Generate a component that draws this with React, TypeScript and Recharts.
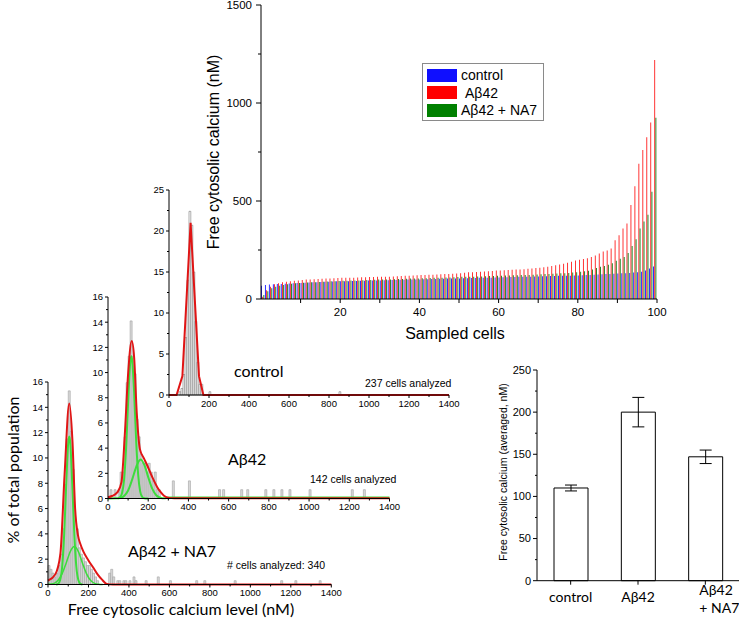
import React from 'react';
import { BarChart, Bar, ComposedChart, Line, XAxis, YAxis, ErrorBar } from 'recharts';

const ARIAL = '"Liberation Sans", Arial, sans-serif';
const CAL = 'Lato, "Open Sans", sans-serif';

// ---- main panel: free cytosolic calcium (nM) of 100 sampled cells, sorted ----
const controlCa = [
  68, 72, 74, 75, 76, 77, 78, 79, 80, 81,
  82, 83, 84, 85, 86, 87, 88, 88, 89, 90,
  90, 91, 91, 92, 92, 93, 93, 94, 94, 95,
  95, 96, 96, 97, 97, 98, 98, 99, 99, 100,
  100, 101, 101, 102, 102, 103, 103, 104, 104, 105,
  105, 106, 106, 107, 107, 108, 108, 109, 109, 110,
  110, 111, 111, 112, 112, 113, 113, 114, 114, 115,
  115, 116, 116, 117, 117, 118, 118, 119, 119, 120,
  120, 121, 122, 123, 124, 125, 126, 127, 128, 129,
  130, 131, 132, 133, 135, 137, 139, 145, 155, 166,
];
const ab42Ca = [
  12, 45, 62, 75, 80, 85, 88, 90, 93, 95,
  97, 99, 100, 101, 102, 103, 104, 105, 106, 107,
  108, 108, 109, 109, 110, 111, 111, 112, 112, 113,
  113, 114, 114, 115, 116, 117, 118, 119, 120, 121,
  122, 123, 124, 124, 125, 126, 127, 128, 129, 130,
  132, 134, 136, 137, 138, 139, 140, 142, 143, 145,
  146, 147, 148, 149, 150, 151, 152, 154, 156, 158,
  160, 162, 165, 168, 172, 176, 180, 185, 190, 196,
  200, 204, 208, 214, 222, 232, 242, 248, 258, 300,
  325, 360, 385, 480, 575, 690, 760, 825, 900, 1220,
];
const na7Ca = [
  20, 40, 55, 62, 68, 72, 75, 78, 80, 82,
  83, 84, 85, 86, 87, 88, 89, 90, 91, 92,
  93, 93, 94, 95, 95, 96, 97, 97, 98, 99,
  99, 100, 100, 101, 102, 102, 103, 104, 104, 105,
  106, 106, 107, 108, 108, 109, 110, 110, 111, 112,
  113, 113, 114, 114, 115, 115, 116, 117, 117, 118,
  119, 120, 120, 121, 121, 122, 122, 123, 124, 125,
  126, 127, 128, 129, 130, 131, 132, 133, 135, 137,
  139, 141, 144, 150, 158, 165, 169, 175, 183, 195,
  205, 214, 235, 270, 305, 360, 395, 430, 547, 925,
];

// ---- histograms: bin centres (nM) and % of total population ----
const ctrlBinX = [55, 65, 75, 85, 95, 105, 115, 125, 135, 145, 155, 165, 205, 855];
const ctrlBinPct = [0.4, 0.8, 2.5, 7, 14, 22.4, 20.7, 15, 9, 4, 1.3, 1.3, 0.4, 0.4];
const ctrlFitX = [0, 38, 67, 108, 150, 172, 1400];
const ctrlFitY = [0, 0, 2.3, 21, 2.3, 0, 0];

const abBinX = [15, 35, 55, 65, 75, 85, 95, 105, 115, 125, 135, 145, 155, 165, 175, 185, 195, 205, 215, 225, 235, 245, 255,
  325, 405, 555, 575, 665, 695, 785, 825, 865, 905, 1005, 1215, 1275];
const abBinPct = [0.7, 0.7, 0.7, 2.1, 2.1, 4.9, 9.2, 11.3, 14.1, 11.3, 9.9, 6.3, 4.9, 3.5, 2.8, 2.8, 2.1, 2.8, 2.1, 1.4, 2.1, 0.7, 0.7,
  1.4, 1.4, 0.7, 0.7, 0.7, 0.7, 0.7, 0.7, 0.7, 0.7, 0.7, 0.7, 0.7];
const abRedX = [0, 20, 47, 67, 83, 100, 118, 130, 143, 159, 178, 196, 212, 229, 245, 262, 280, 303, 330, 1400];
const abRedY = [0.1, 0.2, 0.5, 1.3, 4.9, 9.9, 12.5, 11.2, 6.8, 3.9, 3.2, 2.6, 2.0, 1.4, 0.9, 0.5, 0.2, 0.05, 0.02, 0.02];
const abNarrowX = [50, 60, 70, 80, 90, 100, 110, 116, 120, 130, 140, 150, 160, 170, 180, 200];
const abNarrowY = [0.02, 0.09, 0.43, 1.5, 4.0, 7.6, 10.7, 11.3, 11.0, 8.4, 4.6, 1.9, 0.57, 0.13, 0.02, 0];
const abWideX = [0, 40, 60, 80, 100, 120, 140, 162, 180, 200, 220, 240, 260, 280, 300, 1400];
const abWideY = [0, 0.01, 0.04, 0.2, 0.64, 1.5, 2.5, 3.1, 2.7, 1.7, 0.78, 0.26, 0.06, 0.01, 0.08, 0.08];

const naBinX = [5, 15, 25, 35, 45, 55, 65, 75, 85, 95, 105, 115, 125, 135, 145, 155, 165, 175, 185, 195, 205, 215, 225, 235, 245,
  305, 315, 325, 345, 355, 375, 385, 405, 425, 435, 485, 545, 605, 735, 775, 925, 1155, 1225, 1345];
const naBinPct = [1.5, 1.2, 0.9, 0.6, 0.9, 1.5, 2.4, 4.4, 7.9, 11.5, 15.3, 12.1, 9.1, 5.0, 4.4, 2.9, 2.4, 2.1, 1.8, 1.5, 1.5, 1.2, 0.9, 0.6, 0.3,
  0.9, 1.2, 0.6, 0.3, 0.3, 0.3, 0.3, 0.3, 0.6, 0.3, 0.3, 0.6, 0.3, 0.3, 0.3, 0.3, 0.3, 0.3, 0.3];
const naRedX = [0, 36, 61, 82, 105, 121, 134, 148, 160, 175, 200, 225, 245, 266, 290, 320, 1400];
const naRedY = [0.3, 0.8, 2.4, 8.7, 14.3, 11.3, 6.0, 3.9, 3.2, 2.6, 1.9, 1.3, 0.8, 0.4, 0.05, 0, 0];
const naNarrowX = [40, 50, 60, 70, 80, 90, 100, 105, 110, 120, 130, 140, 150, 160, 170];
const naNarrowY = [0, 0.05, 0.35, 1.4, 4.0, 7.9, 11.2, 11.7, 11.2, 7.9, 4.0, 1.4, 0.35, 0.05, 0];
const naWideX = [0, 30, 50, 70, 90, 110, 130, 150, 170, 190, 210, 230, 250, 270];
const naWideY = [0.02, 0.09, 0.33, 0.86, 1.7, 2.6, 3.0, 2.6, 1.7, 0.86, 0.33, 0.09, 0.02, 0];

// ---- averaged panel ----
const groups = ['control', 'Aβ42', 'Aβ42 + NA7'];
const meanCa = [110, 200, 147];
const semCa = [3.5, 17.5, 8];

// ---- ticks ----
const mainXTicks = [10, 20, 30, 40, 50, 60, 70, 80, 90, 100];
const mainYTicks = [0, 250, 500, 750, 1000, 1250, 1500];
const histXTicks = [0, 100, 200, 300, 400, 500, 600, 700, 800, 900, 1000, 1100, 1200, 1300, 1400];
const ctrlYTicks = [0, 2.5, 5, 7.5, 10, 12.5, 15, 17.5, 20, 22.5, 25];
const pctYTicks = [0, 1, 2, 3, 4, 5, 6, 7, 8, 9, 10, 11, 12, 13, 14, 15, 16];
const avgYTicks = [0, 25, 50, 75, 100, 125, 150, 175, 200, 225, 250];

const mainRows = controlCa.map((c, i) => ({ pos: i + 0.5, control: c, ab42: ab42Ca[i], na7: na7Ca[i] }));
const toPts = (xs: number[], ys: number[]) => xs.map((x, i) => ({ x, y: ys[i] }));
const avgRows = groups.map((g, i) => ({ g, mean: meanCa[i], sem: semCa[i] }));

const yTick = (major: (v: number) => boolean, majLen: number, minLen: number, fs: number, gap: number) => (p: any) => {
  const v = p.payload.value;
  const maj = major(v);
  return (
    <g>
      <line x1={p.x} x2={p.x - (maj ? majLen : minLen)} y1={p.y} y2={p.y} stroke="#000" />
      {maj && (
        <text x={p.x - gap} y={p.y} dy="0.35em" textAnchor="end" fontSize={fs} fontFamily={ARIAL} fill="#000">{v}</text>
      )}
    </g>
  );
};

const xTick = (major: (v: number) => boolean, majLen: number, minLen: number, fs: number, gap: number) => (p: any) => {
  const v = p.payload.value;
  const maj = major(v);
  return (
    <g>
      <line x1={p.x} x2={p.x} y1={p.y} y2={p.y + (maj ? majLen : minLen)} stroke="#000" />
      {maj && (
        <text x={p.x} y={p.y + gap} dy="0.71em" textAnchor="middle" fontSize={fs} fontFamily={ARIAL} fill="#000">{v}</text>
      )}
    </g>
  );
};

const groupTick = (p: any) => {
  const v: string = p.payload.value;
  const lines = v === 'Aβ42 + NA7' ? ['Aβ42', '+ NA7'] : [v];
  const multi = lines.length > 1;
  const tx = multi ? p.x - 6 : p.x;
  return (
    <g>
      <line x1={p.x} x2={p.x} y1={p.y} y2={p.y + 4} stroke="#000" />
      {lines.map((l, i) => (
        <text key={i} x={tx} y={p.y + (multi ? 9 + i * 18 : 16)} dy="0.35em" textAnchor={multi ? 'start' : 'middle'}
          fontSize={14} fontFamily={CAL} fill="#000">{l}</text>
      ))}
    </g>
  );
};

type Curve = { pts: { x: number; y: number }[]; color: string; w: number; kind: 'linear' | 'monotone' };

const Histogram = (props: {
  left: number; top: number; right: number; bottom: number; yMax: number; yTicks: number[];
  yMajor: (v: number) => boolean; bins: { x: number; v: number }[]; barFill: string; barStroke: string; curves: Curve[];
}) => {
  const { left, top, right, bottom } = props;
  const yw = 30, mt = 7, mr = 12, xh = 20;
  const boxL = left - yw, boxT = top - mt;
  const w = right - boxL + mr, h = bottom - boxT + xh;
  return (
    <div style={{ position: 'absolute', left: boxL, top: boxT }}>
      <ComposedChart width={w} height={h} data={props.bins} margin={{ top: mt, right: mr, left: 0, bottom: 0 }}>
        <XAxis xAxisId="f" dataKey="x" type="number" domain={[0, 1400]} ticks={histXTicks} height={xh}
          tickSize={0} tickMargin={0} tickLine={false} axisLine={{ stroke: '#000' }}
          tick={xTick((v) => v % 200 === 0, 3, 2, 9.5, 5)} interval={0} />
        <XAxis xAxisId="b" dataKey="x" type="number" domain={[0, 1400]} height={0} hide />
        <YAxis type="number" domain={[0, props.yMax]} ticks={props.yTicks} width={yw} tickSize={0} tickMargin={0}
          tickLine={false} axisLine={{ stroke: '#000' }} tick={yTick(props.yMajor, 3, 2, 9.5, 5)} interval={0} />
        <Bar xAxisId="b" dataKey="v" barSize={2} fill={props.barFill} stroke={props.barStroke} strokeWidth={0.6} isAnimationActive={false} />
        {props.curves.map((c, i) => (
          <Line key={i} xAxisId="f" data={c.pts} dataKey="y" type={c.kind} stroke={c.color} strokeWidth={c.w}
            dot={false} isAnimationActive={false} />
        ))}
      </ComposedChart>
    </div>
  );
};

const RED = '#e01515';
const GREEN = '#3ddc3d';

export default function App() {
  return (
    <div style={{ position: 'absolute', left: 0, top: 0, width: 739, height: 619, background: '#fff', overflow: 'hidden' }}>
      <Histogram left={47.7} right={331} top={382} bottom={584.5} yMax={16} yTicks={pctYTicks} yMajor={(v) => v % 2 === 0}
        bins={toPts(naBinX, naBinPct).map((d) => ({ x: d.x, v: d.y }))} barFill="#dadada" barStroke="#a0a0a0"
        curves={[
          { pts: toPts(naWideX, naWideY), color: GREEN, w: 1.5, kind: 'monotone' },
          { pts: toPts(naNarrowX, naNarrowY), color: GREEN, w: 2, kind: 'monotone' },
          { pts: toPts(naRedX, naRedY), color: RED, w: 2, kind: 'monotone' },
        ]} />
      <Histogram left={107.5} right={389} top={297} bottom={498.5} yMax={16} yTicks={pctYTicks} yMajor={(v) => v % 2 === 0}
        bins={toPts(abBinX, abBinPct).map((d) => ({ x: d.x, v: d.y }))} barFill="#dadada" barStroke="#a0a0a0"
        curves={[
          { pts: toPts(abWideX, abWideY), color: GREEN, w: 2, kind: 'monotone' },
          { pts: toPts(abNarrowX, abNarrowY), color: GREEN, w: 2, kind: 'monotone' },
          { pts: toPts(abRedX, abRedY), color: RED, w: 2, kind: 'monotone' },
        ]} />
      <Histogram left={169} right={449} top={190} bottom={395} yMax={25} yTicks={ctrlYTicks} yMajor={(v) => v % 5 === 0}
        bins={toPts(ctrlBinX, ctrlBinPct).map((d) => ({ x: d.x, v: d.y }))} barFill="#ffffff" barStroke="#777777"
        curves={[{ pts: toPts(ctrlFitX, ctrlFitY), color: RED, w: 2, kind: 'linear' }]} />

      <div style={{ position: 'absolute', left: 200, top: 0 }}>
        <BarChart width={470} height={345} data={mainRows} margin={{ top: 5, right: 13, bottom: 16, left: 21 }} barGap={0.3}>
          <XAxis dataKey="pos" type="number" domain={[0, 100]} ticks={mainXTicks} interval={0} height={30}
            tickSize={0} tickMargin={0} tickLine={false} axisLine={{ stroke: '#000' }}
            tick={xTick((v) => v % 20 === 0, 4, 4, 11.5, 9)} />
          <YAxis type="number" domain={[0, 1500]} ticks={mainYTicks} interval={0} width={40}
            tickSize={0} tickMargin={0} tickLine={false} axisLine={{ stroke: '#000' }}
            tick={yTick((v) => v % 500 === 0, 5, 3, 11.5, 9)} />
          <Bar dataKey="control" fill="#1a1aff" barSize={0.9} isAnimationActive={false} />
          <Bar dataKey="ab42" fill="#ff1f1f" barSize={0.9} isAnimationActive={false} />
          <Bar dataKey="na7" fill="#137a13" barSize={0.9} isAnimationActive={false} />
        </BarChart>
      </div>

      <div style={{ position: 'absolute', left: 422, top: 63, width: 120, height: 56, border: '1px solid #8a8a8a', background: '#fff',
        fontFamily: ARIAL, fontSize: 14, color: '#000' }}>
        {[
          { c: '#0f0fff', t: 'control', pad: 0 },
          { c: '#ff0000', t: 'Aβ42', pad: 4 },
          { c: '#008000', t: 'Aβ42 + NA7', pad: 0 },
        ].map((e, i) => (
          <div key={i} style={{ position: 'absolute', left: 4, top: 4 + i * 17.5, height: 14, display: 'flex', alignItems: 'center' }}>
            <div style={{ width: 30, height: 13, background: e.c }} />
            <span style={{ marginLeft: 4 + e.pad, lineHeight: '14px', whiteSpace: 'nowrap' }}>{e.t}</span>
          </div>
        ))}
      </div>

      <div style={{ position: 'absolute', left: 480, top: 362 }}>
        <BarChart width={259} height={257} data={avgRows} margin={{ top: 8, right: 0, bottom: 0, left: 0 }}>
          <XAxis dataKey="g" height={38.3} tickSize={0} tickMargin={0} tickLine={false} axisLine={{ stroke: '#000' }}
            tick={groupTick} interval={0} />
          <YAxis type="number" domain={[0, 250]} ticks={avgYTicks} interval={0} width={57} tickSize={0} tickMargin={0}
            tickLine={false} axisLine={{ stroke: '#000' }} tick={yTick((v) => v % 50 === 0, 4, 2, 11, 6)} />
          <Bar dataKey="mean" barSize={34} fill="#fff" stroke="#000" strokeWidth={1} isAnimationActive={false}>
            <ErrorBar dataKey="sem" width={6} stroke="#000" strokeWidth={1} />
          </Bar>
        </BarChart>
      </div>

      <svg width={739} height={619} style={{ position: 'absolute', left: 0, top: 0, pointerEvents: 'none' }}>
        <text x={213} y={152} transform="rotate(-90 213 152)" textAnchor="middle" dominantBaseline="central" fontFamily={ARIAL} fontSize={16}>Free cytosolic calcium (nM)</text>
        <text x={455} y={333} textAnchor="middle" dominantBaseline="central" fontFamily={ARIAL} fontSize={16}>Sampled cells</text>
        <text x={234} y={370} dominantBaseline="central" fontFamily={CAL} fontSize={16}>control</text>
        <text x={365} y={383} dominantBaseline="central" fontFamily={ARIAL} fontSize={10.5}>237 cells analyzed</text>
        <text x={228} y={458} dominantBaseline="central" fontFamily={CAL} fontSize={16}>Aβ42</text>
        <text x={310} y={479} dominantBaseline="central" fontFamily={ARIAL} fontSize={10.5}>142 cells analyzed</text>
        <text x={128} y={550} dominantBaseline="central" fontFamily={CAL} fontSize={16}>Aβ42 + NA7</text>
        <text x={227} y={565} dominantBaseline="central" fontFamily={ARIAL} fontSize={10.5}># cells analyzed: 340</text>
        <text x={12} y={470} transform="rotate(-90 12 470)" textAnchor="middle" dominantBaseline="central" fontFamily={CAL} fontSize={16}>% of total population</text>
        <text x={181} y={608} textAnchor="middle" dominantBaseline="central" fontFamily={CAL} fontSize={16}>Free cytosolic calcium level (nM)</text>
        <text x={503} y={472} transform="rotate(-90 503 472)" textAnchor="middle" dominantBaseline="central" fontFamily={ARIAL} fontSize={10.5}>Free cytosolic calcium (averaged, nM)</text>
      </svg>
    </div>
  );
}
